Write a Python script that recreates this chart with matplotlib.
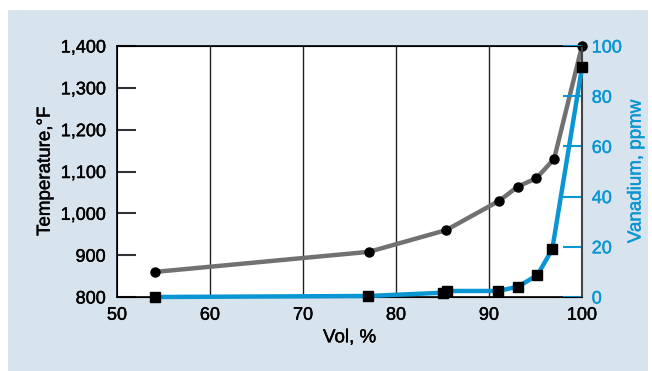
import matplotlib.pyplot as plt
import matplotlib.patheffects as pe
from matplotlib.patches import Rectangle

vol_t = [54.1, 77.1, 85.4, 91.1, 93.1, 95.1, 97.0, 100.0]
temp = [860, 908, 960, 1030, 1064, 1084, 1130, 1400]

vol_v = [54.1, 77.0, 85.0, 85.5, 91.0, 93.1, 95.2, 96.8, 100.0]
vanadium = [0, 0.4, 1.7, 2.4, 2.4, 4.1, 8.7, 19, 91.5]

temp_ticks = [800, 900, 1000, 1100, 1200, 1300, 1400]
temp_labels = ['800', '900', '1,000', '1,100', '1,200', '1,300', '1,400']
van_ticks = [0, 20, 40, 60, 80, 100]

blue = '#0a96d2'
gray = '#717171'

plt.rcParams['font.family'] = 'Liberation Sans'

fig = plt.figure(figsize=(6.52, 3.71), dpi=100)
fig.patch.set_facecolor('white')
fig.patches.append(Rectangle((8/652, 0), 640/652, 361/371, transform=fig.transFigure,
                             facecolor='#d7e3ed', edgecolor='none', zorder=-10))

ax = fig.add_axes([117/652, 1-297/371, 465/652, 251/371])
ax.set_facecolor('white')
ax.set_xlim(50, 100)
ax.set_ylim(800, 1400)
for x in [60, 70, 80, 90]:
    ax.axvline(x, color='#222222', lw=1.0, zorder=1)

ax.plot(vol_t, temp, color=gray, lw=3.2, zorder=3, clip_on=False)
ax.plot(vol_t, temp, 'o', color='black', ms=6.5, zorder=5, clip_on=False)

ax.set_xticks([50, 60, 70, 80, 90, 100])
ax.tick_params(axis='x', length=0, pad=7, labelsize=13)
ax.set_yticks(temp_ticks)
ax.set_yticklabels(temp_labels)
ax.tick_params(axis='y', direction='in', length=14, width=1.5, color='#333333', labelsize=13, pad=8)
ax.set_xlabel('Vol, %', fontsize=13.5, labelpad=4)
ax.set_ylabel('Temperature,°F', fontsize=13.5, labelpad=5)
for s in ax.spines.values():
    s.set_color('black')
    s.set_linewidth(1.2)

ax2 = ax.twinx()
ax2.set_ylim(0, 100)
ax2.plot(vol_v, vanadium, color=blue, lw=3.2, zorder=3, clip_on=False)
ax2.plot(vol_v, vanadium, 's', color='black', ms=7.5, zorder=5, clip_on=False)
ax2.set_yticks(van_ticks)
ax2.tick_params(axis='y', direction='in', length=14, width=1.5, color=blue,
                labelcolor=blue, labelsize=13, pad=7)
ax2.set_ylabel('Vanadium, ppmw', color=blue, fontsize=13.5, labelpad=4)
ax2.spines['right'].set_color('#444444')
ax2.spines['right'].set_linewidth(1.5)

# slightly heavier text, like the original
texts = (ax.get_xticklabels() + ax.get_yticklabels() + ax2.get_yticklabels()
         + [ax.xaxis.label, ax.yaxis.label, ax2.yaxis.label])
for t in texts:
    t.set_path_effects([pe.withStroke(linewidth=0.3, foreground=t.get_color())])

fig.savefig('out.png', dpi=100)
